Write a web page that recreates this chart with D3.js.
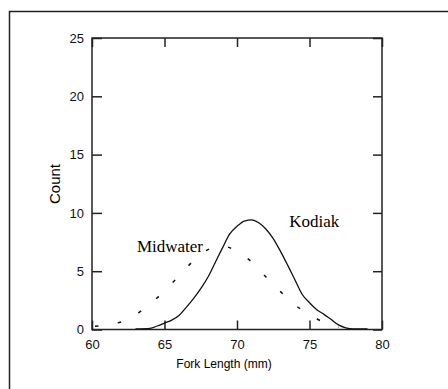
<!DOCTYPE html>
<html>
<head>
<meta charset="utf-8">
<script src="https://cdn.jsdelivr.net/npm/d3@7"></script>
<style>
  body { margin: 0; background: #fff; }
  svg { display: block; }
</style>
</head>
<body>
<div id="chart"></div>
<script>
// Fork length (mm) vs count
var kodiakX = [63, 64, 64.5, 65, 65.5, 66, 66.5, 67, 67.5, 68, 68.5, 69, 69.5, 70, 70.5, 71, 71.5, 72, 72.5, 73, 73.5, 74, 74.5, 75, 75.5, 76, 76.5, 77, 77.5, 78, 79];
var kodiakY = [0.05, 0.1, 0.3, 0.55, 0.8, 1.2, 1.9, 2.65, 3.5, 4.5, 5.75, 7.0, 8.2, 8.85, 9.3, 9.4, 9.15, 8.6, 7.8, 6.7, 5.5, 4.25, 3.0, 2.3, 1.7, 1.3, 0.85, 0.4, 0.15, 0.05, 0.05];

var midwaterX = [60, 61, 62, 63, 64, 65, 66, 67, 68, 69, 70, 71, 72, 73, 74, 75, 76, 77];
var midwaterY = [0.25, 0.4, 0.65, 1.25, 2.2, 3.3, 4.6, 5.9, 6.85, 7.15, 6.7, 5.8, 4.5, 3.25, 2.1, 1.3, 0.6, 0.2];

var xTicks = [60, 65, 70, 75, 80];
var yTicks = [0, 5, 10, 15, 20, 25];

var width = 448, height = 389;
var margin = { top: 38, left: 92, right: 66, bottom: 59.5 };
var w = width - margin.left - margin.right;
var h = height - margin.top - margin.bottom;

var svg = d3.select("#chart").append("svg")
  .attr("width", width)
  .attr("height", height);

// outer frame, runs off the page on the right and bottom
svg.append("rect")
  .attr("x", 9.5).attr("y", 11.5)
  .attr("width", 500).attr("height", 500)
  .style("fill", "none")
  .style("stroke", "#222")
  .style("stroke-width", "1.5px");

var g = svg.append("g")
  .attr("transform", "translate(" + margin.left + "," + margin.top + ")");

var x = d3.scaleLinear().domain([60, 80]).range([0, w]);
var y = d3.scaleLinear().domain([0, 25]).range([h, 0]);

var tickFont = "Liberation Sans, Arial, sans-serif";

g.append("g")
  .attr("transform", "translate(0," + h + ")")
  .call(d3.axisBottom(x).tickValues(xTicks).tickSize(-9).tickPadding(10));

g.append("g")
  .call(d3.axisLeft(y).tickValues(yTicks).tickSize(-10).tickPadding(8));

g.append("g")
  .call(d3.axisTop(x).tickValues(xTicks).tickSize(-9).tickFormat(""));

g.append("g")
  .attr("transform", "translate(" + w + ",0)")
  .call(d3.axisRight(y).tickValues(yTicks).tickSize(-9).tickFormat(""));

g.selectAll(".domain").remove();
g.selectAll(".tick line")
  .style("stroke", "#222")
  .style("stroke-width", "1.5px");
g.selectAll(".tick text")
  .style("font-family", tickFont)
  .style("font-size", "13px")
  .style("fill", "#111");

g.append("rect")
  .attr("width", w).attr("height", h)
  .style("fill", "none")
  .style("stroke", "#222")
  .style("stroke-width", "1.5px");

var line = d3.line()
  .x(function (d) { return x(d[0]); })
  .y(function (d) { return y(d[1]); })
  .curve(d3.curveMonotoneX);

var kodiak = d3.zip(kodiakX, kodiakY);
var midwater = d3.zip(midwaterX, midwaterY);

g.append("path")
  .datum(midwater)
  .attr("d", line)
  .style("fill", "none")
  .style("stroke", "#111")
  .style("stroke-width", "1.5px")
  .style("stroke-dasharray", "3.5,19.5")
  .style("stroke-dashoffset", "-3");

g.append("path")
  .datum(kodiak)
  .attr("d", line)
  .style("fill", "none")
  .style("stroke", "#111")
  .style("stroke-width", "1.3px");

// series labels
g.append("text")
  .attr("x", x(73.6)).attr("y", y(8.8))
  .style("font-family", "Liberation Serif, Times New Roman, serif")
  .style("font-size", "17px")
  .text("Kodiak");

g.append("text")
  .attr("x", x(63.1)).attr("y", y(6.65))
  .style("font-family", "Liberation Serif, Times New Roman, serif")
  .style("font-size", "17px")
  .text("Midwater");

// axis titles
svg.append("text")
  .attr("x", margin.left + w / 2 - 13)
  .attr("y", 368)
  .attr("text-anchor", "middle")
  .style("font-family", tickFont)
  .style("font-size", "12px")
  .text("Fork Length (mm)");

svg.append("text")
  .attr("transform", "translate(60,184) rotate(-90)")
  .attr("text-anchor", "middle")
  .style("font-family", tickFont)
  .style("font-size", "15px")
  .text("Count");
</script>
</body>
</html>
